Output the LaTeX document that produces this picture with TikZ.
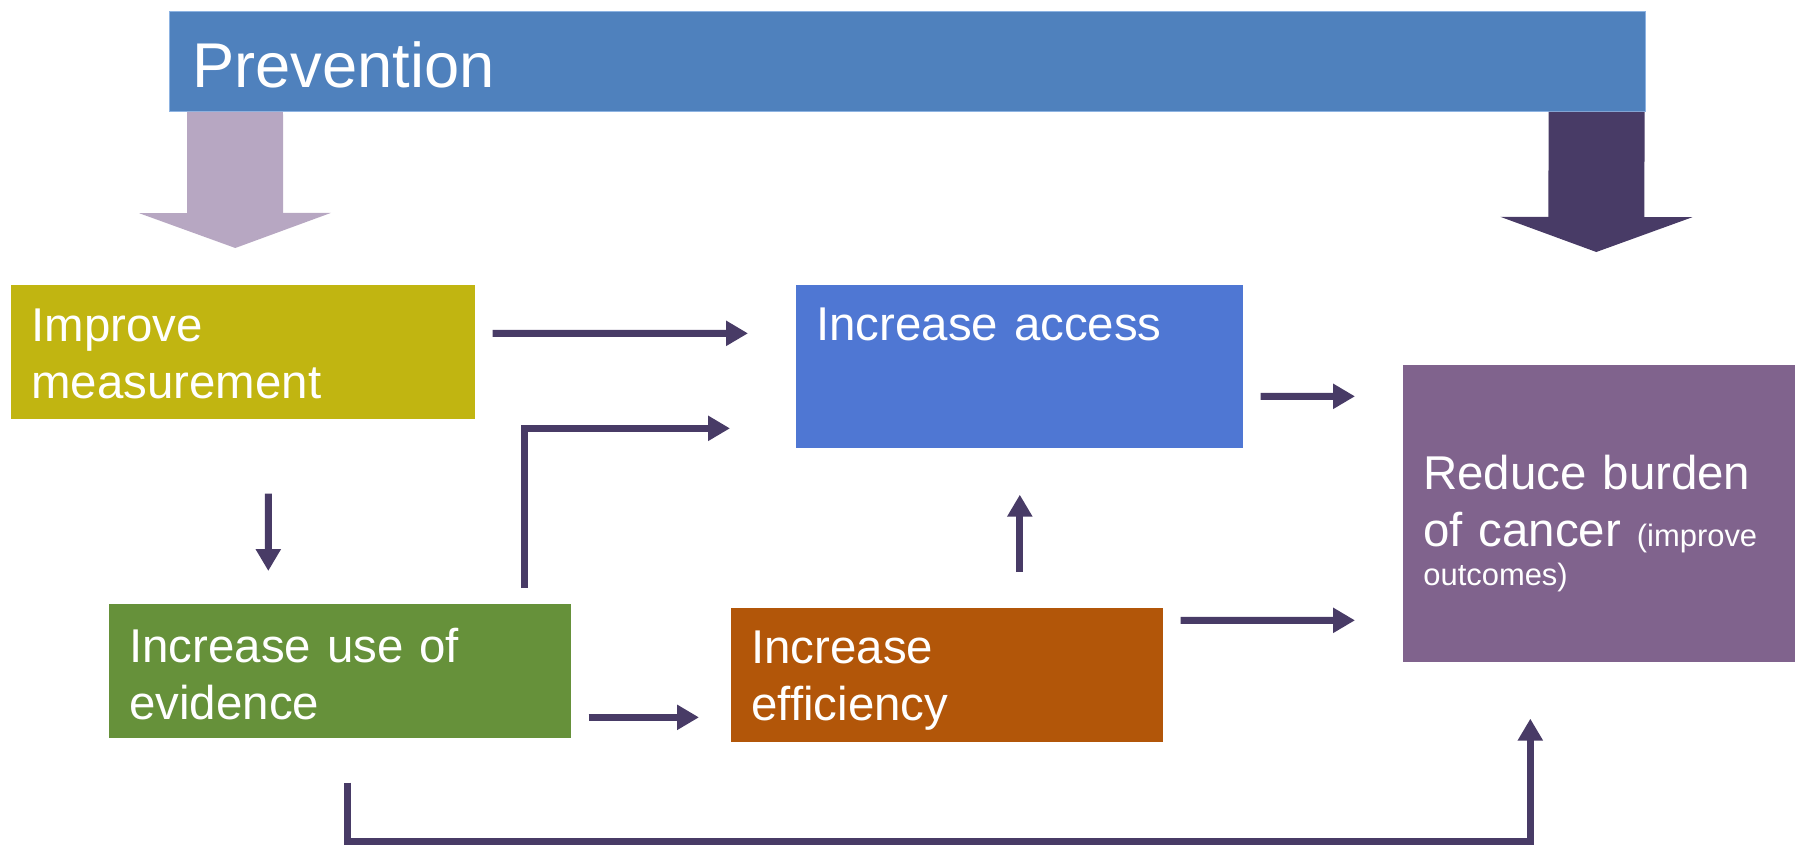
\documentclass[tikz,border=0pt]{standalone}
\usepackage{fontspec}
\setmainfont{Liberation Sans}
\usetikzlibrary{positioning}
\usetikzlibrary{arrows.meta}
\usetikzlibrary{calc}
\definecolor{prevblue}{RGB}{79,129,189}
\definecolor{prevedge}{RGB}{141,179,226}
\definecolor{measolive}{RGB}{193,181,17}
\definecolor{accblue}{RGB}{79,119,211}
\definecolor{evgreen}{RGB}{102,145,58}
\definecolor{effbrown}{RGB}{178,86,9}
\definecolor{burdenpurple}{RGB}{128,99,141}
\definecolor{lilac}{RGB}{183,167,194}
\definecolor{darkplum}{RGB}{72,59,102}
\tikzset{
    box/.style = {rectangle, anchor=north west, inner xsep=0.4cm, inner ysep=0pt, align=left, text=white, font=\fontsize{27}{32.4}\selectfont},
    prevbox/.style = {box, inner xsep=0.46cm, fill=prevblue, draw=prevedge, line width=0.5pt, font=\fontsize{36}{43}\selectfont},
    edgen/.style = {-{Triangle[length=0.44cm,width=0.48cm]}, line width=0.14cm, draw=darkplum}, % thin
    edgebig/.style = {-{Triangle[length=0.7cm,width=3.82cm]}, line width=1.92cm}, % block
}
\begin{document}
\begin{tikzpicture}[x=0.02cm,y=0.02cm]
\useasboundingbox (0,0) rectangle (1795,-845);
%
\node[prevbox, text width=28.6cm, text height=1.52cm, text depth=0.48cm] at (169,-11) (prev) {Prevention};
\node[box, fill=measolive, text width=8.48cm, text height=1.12cm, text depth=1.56cm] at (11,-285) (meas) {Improve\\measurement};
\node[box, fill=accblue, text width=8.14cm, text height=1.10cm, text depth=2.16cm] at (796,-285) (access) {Increase access};
\node[box, fill=evgreen, text width=8.44cm, text height=1.16cm, text depth=1.52cm] at (109,-604) (evid) {Increase use of\\evidence};
\node[box, fill=effbrown, text width=7.84cm, text height=1.10cm, text depth=1.58cm] at (731,-608) (eff) {Increase\\efficiency};
\node[box, fill=burdenpurple, text width=7.04cm, text height=2.48cm, text depth=3.46cm] at (1403,-365) (burden) {Reduce burden\\of cancer {\fontsize{17.6}{21}\selectfont(improve}\\[-0.36cm]{\fontsize{17.6}{21}\selectfont outcomes)}};
%
\draw[edgebig, lilac] ($(prev.south west)+(66,0)$) -- ($(meas.north)+(-8,37)$);
\draw[edgebig, darkplum] ($(prev.south east)+(-49,0)$) -- ($(burden.north)+(-3,113)$);
%
\draw[edgen] ($(meas.east)+(17,19)$) -- ($(access.west)+(-48,33.5)$);
\draw[edgen] ($(evid.north)+(184,16)$) |- ($(access.west)+(-66,-61.5)$);
\draw[edgen] ($(meas.south)+(25,-74)$) -- ($(evid.north)+(-72,33)$);
\draw[edgen] ($(evid.east)+(17,-46)$) -- ($(eff.west)+(-32,-42)$);
\draw[edgen] ($(eff.north -| access.south)+(0,36)$) -- ($(access.south)+(0,-46)$);
\draw[edgen] ($(access.east)+(17,-29.5)$) -- ($(burden.west)+(-48,117.5)$);
\draw[edgen] ($(eff.east)+(17,55)$) -- ($(burden.west)+(-48,-106.5)$);
\draw[edgen] ($(evid.south)+(7,-44)$) -- ++(0,-59) -| ($(burden.south)+(-69,-56)$);
\end{tikzpicture}
\end{document}
